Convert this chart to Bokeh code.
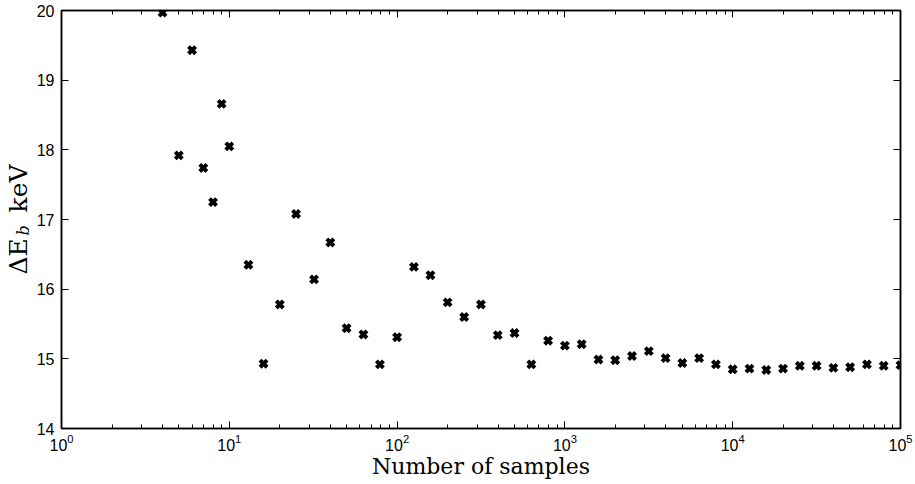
from bokeh.plotting import figure
from bokeh.models import LogAxis, LinearAxis, Label, FixedTicker, Range1d
from bokeh.layouts import row
from bokeh.embed import file_html
from bokeh.resources import INLINE

samples = [4, 5, 6, 7, 8, 9, 10, 13, 16, 20, 25, 32, 40, 50, 63, 79, 100,
           126, 158, 200, 251, 316, 398, 501, 631, 794, 1000, 1259, 1585,
           1995, 2512, 3162, 3981, 5012, 6310, 7943, 10000, 12589, 15849,
           19953, 25119, 31623, 39811, 50119, 63096, 79433, 100000]
delta_e = [19.97, 17.92, 19.43, 17.74, 17.25, 18.66, 18.05, 16.35, 14.93,
           15.78, 17.08, 16.14, 16.67, 15.44, 15.35, 14.92, 15.31, 16.32,
           16.20, 15.81, 15.60, 15.78, 15.34, 15.37, 14.92, 15.26, 15.19,
           15.21, 14.99, 14.98, 15.04, 15.11, 15.01, 14.94, 15.01, 14.92,
           14.85, 14.86, 14.84, 14.86, 14.90, 14.90, 14.87, 14.88, 14.92,
           14.90, 14.91]
y_ticks = [14, 15, 16, 17, 18, 19, 20]

p = figure(width=882, height=484, x_axis_type="log",
           x_range=Range1d(1, 1e5), y_range=Range1d(14, 20),
           output_backend="svg", toolbar_location=None,
           min_border_left=27, min_border_right=15, min_border_top=10,
           min_border_bottom=56)
p.grid.visible = False
p.outline_line_color = "black"
p.outline_line_width = 1.5

p.scatter(samples, delta_e, marker="x", size=10, line_width=4,
          line_color="black")

def style(ax, show_labels=True):
    ax.axis_line_color = "black"
    ax.axis_line_width = 1.5
    ax.major_tick_in = 7
    ax.major_tick_out = 0
    ax.minor_tick_in = 4
    ax.minor_tick_out = 0
    ax.major_tick_line_color = "black"
    ax.minor_tick_line_color = "black"
    ax.major_label_text_font = "Liberation Sans"
    ax.major_label_text_font_size = "16px"
    ax.major_label_text_color = "black"
    if not show_labels:
        ax.major_label_text_alpha = 0
        ax.major_label_text_font_size = "0px"

xa = p.xaxis[0]
style(xa)
xa.major_label_standoff = 5
xa.axis_label = "Number of samples"
xa.axis_label_text_font = "DejaVu Serif"
xa.axis_label_text_font_style = "normal"
xa.axis_label_text_font_size = "22px"
xa.axis_label_text_color = "black"
xa.axis_label_standoff = 0

ya = p.yaxis[0]
style(ya)
ya.ticker = FixedTicker(ticks=y_ticks, minor_ticks=[])
ya.major_label_standoff = 7

top = LogAxis(ticker=xa.ticker)
style(top, False)
p.add_layout(top, "above")
right = LinearAxis(ticker=FixedTicker(ticks=y_ticks, minor_ticks=[]))
style(right, False)
p.add_layout(right, "right")

# narrow panel holding the rotated y-axis title (with subscript);
# its data coordinates equal pixels (x from left, y from bottom)
q = figure(frame_width=33, frame_height=484, output_backend="svg",
           toolbar_location=None, min_border=0,
           x_axis_location=None, y_axis_location=None,
           x_range=Range1d(0, 33), y_range=Range1d(0, 484))
q.grid.visible = False
q.outline_line_color = None

lab1 = Label(x=18, y=220, text="ΔE", angle=1.5708, text_font="DejaVu Serif",
             text_font_size="25px", text_align="left",
             text_baseline="middle", text_color="black")
lab2 = Label(x=23, y=259, text="b", angle=1.5708, text_font="DejaVu Serif",
             text_font_style="italic", text_font_size="16px",
             text_align="left", text_baseline="middle", text_color="black")
lab3 = Label(x=18, y=282, text="keV", angle=1.5708, text_font="DejaVu Serif",
             text_font_size="25px", text_align="left",
             text_baseline="middle", text_color="black")
for l in (lab1, lab2, lab3):
    q.add_layout(l)

layout = row(q, p)
open("out.html", "w").write(file_html(layout, INLINE))
